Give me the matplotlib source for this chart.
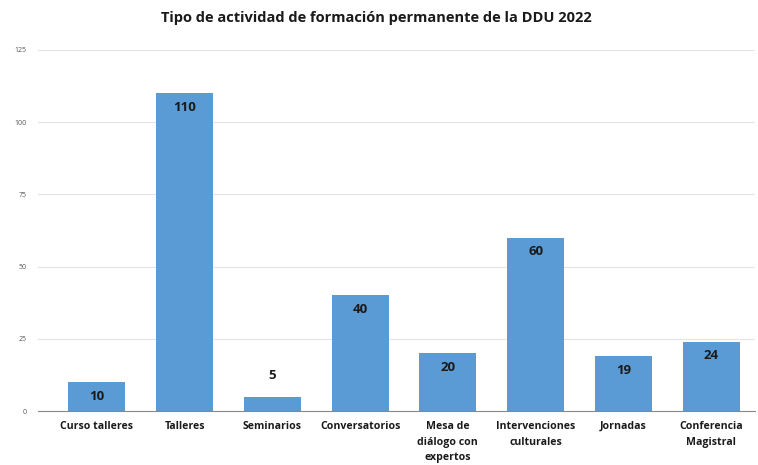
import matplotlib
matplotlib.use("Agg")
import matplotlib.pyplot as plt

categories = ["Curso talleres", "Talleres", "Seminarios", "Conversatorios",
              "Mesa de\ndiálogo con\nexpertos", "Intervenciones\nculturales",
              "Jornadas", "Conferencia\nMagistral"]
values = [10, 110, 5, 40, 20, 60, 19, 24]
yticks = [0, 25, 50, 75, 100, 125]

plt.rcParams['font.family'] = ['Open Sans', 'DejaVu Sans']

fig = plt.figure(figsize=(7.58, 4.65), dpi=100)
ax = fig.add_axes([38 / 758, 1 - 411 / 465, 717 / 758, 361 / 465])

x = list(range(len(categories)))
bars = ax.bar(x, values, width=0.65, color="#5b9bd5", zorder=3)

for xi, v in zip(x, values):
    if v >= 10:
        ax.annotate(str(v), (xi, v), xytext=(0, -10), textcoords="offset points",
                    ha="center", va="center", fontsize=9.5, fontweight="bold",
                    color="#1a1a1a", zorder=4)
    else:
        ax.annotate(str(v), (xi, v), xytext=(0, 15), textcoords="offset points",
                    ha="center", va="center", fontsize=9.5, fontweight="bold",
                    color="#1a1a1a", zorder=4)

ax.set_xlim(-0.67, 7.5)
ax.set_ylim(0, 125)
ax.set_yticks(yticks)
ax.set_yticklabels([str(t) for t in yticks], fontsize=5, color="#555555")
ax.set_xticks(x)
ax.set_xticklabels(categories, fontsize=7.6, fontweight="bold", color="#1a1a1a",
                   linespacing=1.6, va="top")
ax.tick_params(axis="x", length=0, pad=7)
ax.tick_params(axis="y", length=0, pad=8)
ax.grid(axis="y", color="#e4e4e4", linewidth=0.8, zorder=0)
for s in ["top", "right", "left"]:
    ax.spines[s].set_visible(False)
ax.spines["bottom"].set_color("#888888")
ax.spines["bottom"].set_zorder(5)

fig.text(376 / 758, 1 - 18 / 465, "Tipo de actividad de formación permanente de la DDU 2022",
         ha="center", va="center", fontsize=10.5, fontweight="bold", color="#1a1a1a")

fig.savefig("out.png", dpi=100)
